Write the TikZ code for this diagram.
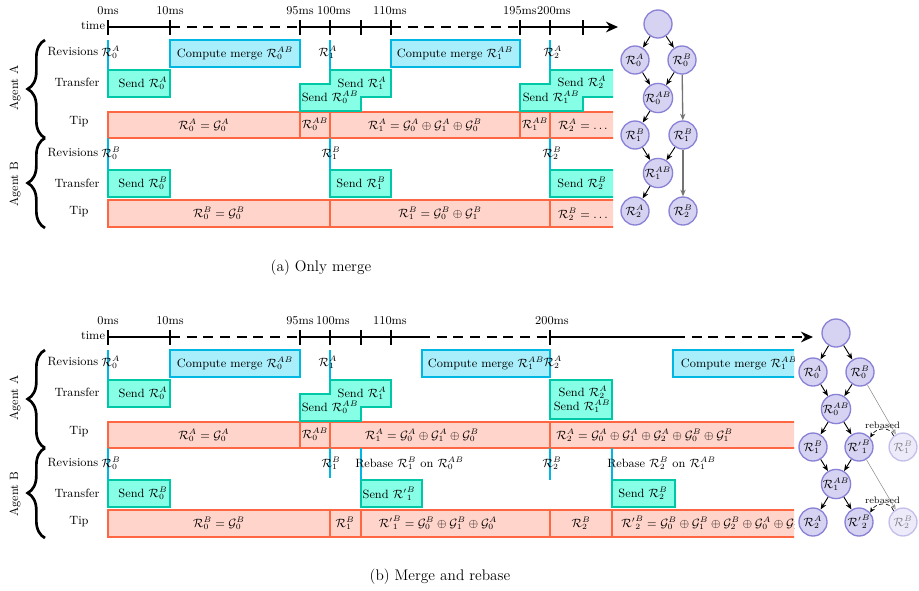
\documentclass[tikz,border=0pt]{standalone}
\usepackage{amsmath,amssymb}
\usetikzlibrary{arrows.meta,decorations.pathreplacing}

\definecolor{mergeFill}{HTML}{A8EEFB}
\definecolor{mergeLine}{HTML}{00B7E3}
\definecolor{sendFill}{HTML}{86FFE6}
\definecolor{sendLine}{HTML}{00C8A6}
\definecolor{tipFill}{HTML}{FFD4CA}
\definecolor{tipLine}{HTML}{FF6642}
\definecolor{revFill}{HTML}{D6D2F2}
\definecolor{revLine}{HTML}{8A82D6}

\newcommand{\R}[2]{\mathcal{R}_{#1}^{#2}}
\newcommand{\Rp}[2]{{\mathcal{R}'}_{#1}^{#2}}
\newcommand{\G}[2]{\mathcal{G}_{#1}^{#2}}

% row labels and agent braces, #1 = name prefix, #2 = vertical offset
\newcommand{\agentrows}[2]{%
  \node (#1-revA) at (73,52+#2) {Revisions};
  \node (#1-trA)  at (77,82+#2) {Transfer};
  \node (#1-tipA) at (79,122+#2) {Tip};
  \node (#1-revB) at (73,153+#2) {Revisions};
  \node (#1-trB)  at (77,183+#2) {Transfer};
  \node (#1-tipB) at (79,212+#2) {Tip};
  \draw[agentbrace] (45,138+#2) -- (45,40+#2);
  \draw[agentbrace] (45,228+#2) -- (45,138+#2);
  \node[rotate=90] (#1-agA) at (15,88+#2) {Agent A};
  \node[rotate=90] (#1-agB) at (15,184+#2) {Agent B};
}
% tick mark on a time axis at (#1,#2)
\newcommand{\tmtick}[2]{\draw[tick] (#1,#2-7) -- (#1,#2+8);}

\begin{document}
\begin{tikzpicture}[x=0.75pt,y=-0.75pt,
  every node/.style={font=\small, inner sep=0pt},
  mergebox/.style={draw=mergeLine, fill=mergeFill, line width=2.1pt},
  sendbox/.style={draw=sendLine, fill=sendFill, line width=2.1pt},
  tipbox/.style={draw=tipLine, fill=tipFill, line width=2.1pt},
  revline/.style={draw=mergeLine, line width=2.1pt},
  axis/.style={line width=2pt},
  axisdash/.style={line width=2pt, dash pattern=on 7.5pt off 5pt},
  tick/.style={line width=2pt},
  axistip/.style={-{Stealth[length=9pt,width=8pt]}},
  agentbrace/.style={line width=2pt, decorate, decoration={brace, amplitude=13pt}},
  rev/.style={circle, draw=revLine, fill=revFill, line width=1pt, minimum size=21pt, inner sep=0pt, font=\small},
  ghost/.style={rev, draw opacity=0.45, fill opacity=0.45, text opacity=0.45},
  edge/.style={-{Stealth[length=5pt,width=4pt]}, line width=0.7pt},
  grayedge/.style={-{Stealth[length=5pt,width=4pt]}, line width=1pt, draw=black!55},
  thinedge/.style={-{Stealth[length=4pt,width=3.5pt,open]}, line width=0.4pt, draw=black!45},
  rebasedarc/.style={-{Stealth[length=4pt,width=3.5pt]}, line width=0.5pt, densely dashed},
  caption/.style={font=\fontsize{11.5}{13.5}\selectfont}
]
\useasboundingbox (0,0) rectangle (919,590);

%================ (a) only merge ================
\agentrows{a}{0}

% time axis
\node (a-time) at (93,26) {time};
\draw[axis] (108,27) -- (170,27);
\draw[axisdash] (170,27) -- (300,27);
\draw[axis] (300,27) -- (391,27);
\draw[axisdash] (391,27) -- (520,27);
\draw[axis,axistip] (520,27) -- (618,27);
\foreach \t in {108,170,300,330,361,391,520,550,583} {\tmtick{\t}{27}}
\node (a-t0)   at (108,11) {0ms};
\node (a-t10)  at (170,11) {10ms};
\node (a-t95)  at (300,11) {95ms};
\node (a-t100) at (334,11) {100ms};
\node (a-t110) at (390,11) {110ms};
\node (a-t195) at (520,11) {195ms};
\node (a-t200) at (554,11) {200ms};

\begin{scope}
\clip (100,33) rectangle (613,236);
% tip rows
\draw[tipbox] (108,112) rectangle (300,138);
\draw[tipbox] (300,112) rectangle (330,138);
\draw[tipbox] (330,112) rectangle (520,138);
\draw[tipbox] (520,112) rectangle (550,138);
\draw[tipbox] (550,112) rectangle (650,138);
\node (a-tipA0) at (204,125) {$\R{0}{A}=\G{0}{A}$};
\node (a-tipA1) at (315,124) {$\R{0}{AB}$};
\node (a-tipA2) at (425,125) {$\R{1}{A}=\G{0}{A}\oplus\G{1}{A}\oplus\G{0}{B}$};
\node (a-tipA3) at (535,124) {$\R{1}{AB}$};
\node (a-tipA4) at (584,125) {$\R{2}{A}=\dots$};
\draw[tipbox] (108,200) rectangle (330,227);
\draw[tipbox] (330,200) rectangle (550,227);
\draw[tipbox] (550,200) rectangle (650,227);
\node (a-tipB0) at (219,213) {$\R{0}{B}=\G{0}{B}$};
\node (a-tipB1) at (440,213) {$\R{1}{B}=\G{0}{B}\oplus\G{1}{B}$};
\node (a-tipB2) at (584,214) {$\R{2}{B}=\dots$};
% transfers
\draw[sendbox] (108,70) rectangle (170,97);
\node (a-sA0) at (143,83) {Send $\R{0}{A}$};
\draw[sendbox] (300,84) -- (330,84) -- (330,70) -- (391,70) -- (391,97) -- (361,97) -- (361,111) -- (300,111) -- cycle;
\node (a-sA1) at (362,83) {Send $\R{1}{A}$};
\node (a-sAB0) at (330,97) {Send $\R{0}{AB}$};
\draw[sendbox] (520,84) -- (550,84) -- (550,70) -- (650,70) -- (650,97) -- (583,97) -- (583,111) -- (520,111) -- cycle;
\node (a-sA2) at (582,82) {Send $\R{2}{A}$};
\node (a-sAB1) at (551,97) {Send $\R{1}{AB}$};
\draw[sendbox] (108,170) rectangle (170,197);
\node (a-sB0) at (143,183) {Send $\R{0}{B}$};
\draw[sendbox] (330,170) rectangle (391,197);
\node (a-sB1) at (361,183) {Send $\R{1}{B}$};
\draw[sendbox] (550,170) rectangle (650,197);
\node (a-sB2) at (582,183) {Send $\R{2}{B}$};
% merges
\draw[mergebox] (170,40) rectangle (300,67);
\node (a-cm0) at (235,53.5) {Compute merge $\R{0}{AB}$};
\draw[mergebox] (391,40) rectangle (520,67);
\node (a-cm1) at (455,53.5) {Compute merge $\R{1}{AB}$};
% revisions
\draw[revline] (108,40) -- (108,70);
\draw[revline] (330,40) -- (330,70);
\draw[revline] (550,40) -- (550,70);
\draw[revline] (108,138) -- (108,170);
\draw[revline] (330,138) -- (330,170);
\draw[revline] (550,138) -- (550,170);
\node (a-rA0) at (111,52) {$\R{0}{A}$};
\node (a-rA1) at (328,52) {$\R{1}{A}$};
\node (a-rA2) at (553,52) {$\R{2}{A}$};
\node (a-rB0) at (111,153) {$\R{0}{B}$};
\node (a-rB1) at (331,153) {$\R{1}{B}$};
\node (a-rB2) at (552,153) {$\R{2}{B}$};
\end{scope}

% revision graph
\node[rev] (a-g)    at (658,24) {};
\node[rev] (a-g0A)  at (635,60) {$\R{0}{A}$};
\node[rev] (a-g0B)  at (682,60) {$\R{0}{B}$};
\node[rev] (a-g0AB) at (658,98) {$\R{0}{AB}$};
\node[rev] (a-g1L)  at (635,135) {$\R{1}{B}$};
\node[rev] (a-g1R)  at (683,135) {$\R{1}{B}$};
\node[rev] (a-g1AB) at (658,173) {$\R{1}{AB}$};
\node[rev] (a-g2A)  at (635,211) {$\R{2}{A}$};
\node[rev] (a-g2B)  at (683,211) {$\R{2}{B}$};
\draw[edge] (a-g) -- (a-g0A);
\draw[edge] (a-g) -- (a-g0B);
\draw[edge] (a-g0A) -- (a-g0AB);
\draw[edge] (a-g0B) -- (a-g0AB);
\draw[edge] (a-g0AB) -- (a-g1L);
\draw[edge] (a-g1L) -- (a-g1AB);
\draw[edge] (a-g1R) -- (a-g1AB);
\draw[edge] (a-g1AB) -- (a-g2A);
\draw[grayedge] (a-g0B) -- (a-g1R);
\draw[grayedge] (a-g1R) -- (a-g2B);

\node[caption] (a-cap) at (321,268) {(a) Only merge};

%================ (b) merge and rebase ================
\agentrows{b}{310}

\node (b-time) at (93,336) {time};
\draw[axis] (108,337) -- (170,337);
\draw[axisdash] (170,337) -- (300,337);
\draw[axis] (300,337) -- (420,337);
\draw[axisdash] (420,337) -- (550,337);
\draw[axis] (550,337) -- (675,337);
\draw[axisdash,axistip] (675,337) -- (813,337);
\foreach \t in {108,170,300,330,361,391,550} {\tmtick{\t}{337}}
\node (b-t0)   at (108,321) {0ms};
\node (b-t10)  at (170,321) {10ms};
\node (b-t95)  at (300,321) {95ms};
\node (b-t100) at (333,321) {100ms};
\node (b-t110) at (390,321) {110ms};
\node (b-t200) at (552,321) {200ms};

\begin{scope}
\clip (100,343) rectangle (794,546);
% tip rows
\draw[tipbox] (108,422) rectangle (300,448);
\draw[tipbox] (300,422) rectangle (330,448);
\draw[tipbox] (330,422) rectangle (550,448);
\draw[tipbox] (550,422) rectangle (830,448);
\node (b-tipA0) at (204,435) {$\R{0}{A}=\G{0}{A}$};
\node (b-tipA1) at (315,434) {$\R{0}{AB}$};
\node (b-tipA2) at (422,435) {$\R{1}{A}=\G{0}{A}\oplus\G{1}{A}\oplus\G{0}{B}$};
\node[anchor=west] (b-tipA3) at (556,435) {$\R{2}{A}=\G{0}{A}\oplus\G{1}{A}\oplus\G{2}{A}\oplus\G{0}{B}\oplus\G{1}{B}$};
\draw[tipbox] (108,510) rectangle (330,537);
\draw[tipbox] (330,510) rectangle (361,537);
\draw[tipbox] (361,510) rectangle (550,537);
\draw[tipbox] (550,510) rectangle (612,537);
\draw[tipbox] (612,510) rectangle (830,537);
\node (b-tipB0) at (219,523) {$\R{0}{B}=\G{0}{B}$};
\node (b-tipB1) at (345,523) {$\R{1}{B}$};
\node (b-tipB2) at (438,523) {$\Rp{1}{B}=\G{0}{B}\oplus\G{1}{B}\oplus\G{0}{A}$};
\node (b-tipB3) at (581,523) {$\R{2}{B}$};
\node[anchor=west] (b-tipB4) at (621,523) {$\Rp{2}{B}=\G{0}{B}\oplus\G{1}{B}\oplus\G{2}{B}\oplus\G{0}{A}\oplus\G{1}{A}$};
% transfers
\draw[sendbox] (108,380) rectangle (170,407);
\node (b-sA0) at (143,393) {Send $\R{0}{A}$};
\draw[sendbox] (300,394) -- (330,394) -- (330,380) -- (391,380) -- (391,407) -- (361,407) -- (361,421) -- (300,421) -- cycle;
\node (b-sA1) at (362,393) {Send $\R{1}{A}$};
\node (b-sAB0) at (330,407) {Send $\R{0}{AB}$};
\draw[sendbox] (550,380) rectangle (612,419);
\node (b-sA2) at (583,392) {Send $\R{2}{A}$};
\node (b-sAB1) at (582,406) {Send $\R{1}{AB}$};
\draw[sendbox] (108,480) rectangle (170,507);
\node (b-sB0) at (143,493) {Send $\R{0}{B}$};
\draw[sendbox] (361,480) rectangle (422,507);
\node (b-sB1) at (389,494) {Send $\Rp{1}{B}$};
\draw[sendbox] (612,480) rectangle (675,507);
\node (b-sB2) at (643,493) {Send $\R{2}{B}$};
% merges
\draw[mergebox] (170,350) rectangle (300,377);
\node (b-cm0) at (235,363.5) {Compute merge $\R{0}{AB}$};
\draw[mergebox] (422,350) rectangle (550,377);
\node (b-cm1) at (486,363.5) {Compute merge $\R{1}{AB}$};
\draw[mergebox] (673,350) rectangle (830,377);
\node (b-cm2) at (739,363.5) {Compute merge $\R{1}{AB}$};
% revisions and rebases
\draw[revline] (108,350) -- (108,380);
\draw[revline] (330,350) -- (330,380);
\draw[revline] (108,448) -- (108,480);
\draw[revline] (330,448) -- (330,478);
\draw[revline] (361,448) -- (361,480);
\draw[revline] (550,448) -- (550,480);
\draw[revline] (612,448) -- (612,480);
\node (b-rA0) at (111,362) {$\R{0}{A}$};
\node (b-rA1) at (328,362) {$\R{1}{A}$};
\node (b-rA2) at (553,362) {$\R{2}{A}$};
\node (b-rB0) at (111,463) {$\R{0}{B}$};
\node (b-rB1) at (331,463) {$\R{1}{B}$};
\node (b-rB2) at (552,463) {$\R{2}{B}$};
\node[anchor=west] (b-rb1) at (355,463) {Rebase $\R{1}{B}$ on $\R{0}{AB}$};
\node[anchor=west] (b-rb2) at (607,463) {Rebase $\R{2}{B}$ on $\R{1}{AB}$};
\end{scope}

% revision graph with rebases
\node[rev] (b-g)    at (836,333) {};
\node[rev] (b-g0A)  at (813,372) {$\R{0}{A}$};
\node[rev] (b-g0B)  at (860,372) {$\R{0}{B}$};
\node[rev] (b-g0AB) at (836,409) {$\R{0}{AB}$};
\node[rev] (b-g1L)  at (813,447) {$\R{1}{B}$};
\node[rev] (b-g1R)  at (859,447) {$\Rp{1}{B}$};
\node[ghost] (b-g1X) at (903,447) {$\R{1}{B}$};
\node[rev] (b-g1AB) at (836,484) {$\R{1}{AB}$};
\node[rev] (b-g2A)  at (813,522) {$\R{2}{A}$};
\node[rev] (b-g2R)  at (859,522) {$\Rp{2}{B}$};
\node[ghost] (b-g2X) at (903,522) {$\R{2}{B}$};
\draw[edge] (b-g) -- (b-g0A);
\draw[edge] (b-g) -- (b-g0B);
\draw[edge] (b-g0A) -- (b-g0AB);
\draw[edge] (b-g0B) -- (b-g0AB);
\draw[edge] (b-g0AB) -- (b-g1L);
\draw[edge] (b-g0AB) -- (b-g1R);
\draw[edge] (b-g1L) -- (b-g1AB);
\draw[edge] (b-g1R) -- (b-g1AB);
\draw[edge] (b-g1AB) -- (b-g2A);
\draw[edge] (b-g1AB) -- (b-g2R);
\draw[thinedge] (b-g0B) -- (b-g1X);
\draw[thinedge] (b-g1R) -- (b-g2X);
\draw[rebasedarc] (b-g1X.130) to[out=110, in=60, looseness=1.2] node[pos=0.5, above=0.5pt, font=\scriptsize] (b-lb1) {rebased} (b-g1R.40);
\draw[rebasedarc] (b-g2X.130) to[out=110, in=60, looseness=1.2] node[pos=0.5, above=0.5pt, font=\scriptsize] (b-lb2) {rebased} (b-g2R.40);

\node[caption] (b-cap) at (440,577) {(b) Merge and rebase};
\end{tikzpicture}
\end{document}
